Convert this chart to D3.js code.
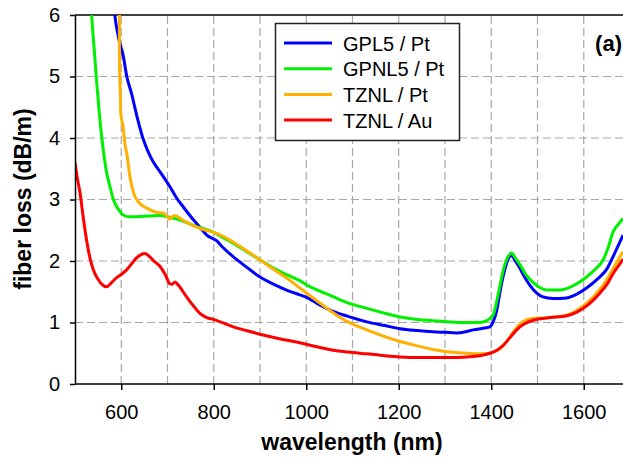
<!DOCTYPE html>
<meta charset="utf-8">
<script src="https://cdn.jsdelivr.net/npm/d3@7"></script>
<style>
  body { margin: 0; background: #fff; }
  svg { display: block; font-family: Arial, "Liberation Sans", sans-serif; }
</style>
<body>
<script>

var width = 623
var height = 460

// data: [wavelength nm, loss dB/m]
var seriesNames = ["GPL5 / Pt", "GPNL5 / Pt", "TZNL / Pt", "TZNL / Au"]
var seriesColors = ["#0000ff", "#00f000", "#ffb000", "#ff0000"]

var gpl5Pt = [[582,6.3],[586,6.0],[595,5.6],[604,5.35],[612,5.0],[622,4.73],[635,4.32],[648,3.97],[658,3.78],[670,3.6],[684,3.45],[705,3.21],[720,3.02],[734,2.88],[756,2.67],[770,2.55],[785,2.42],[806,2.33],[820,2.22],[842,2.07],[871,1.9],[900,1.74],[930,1.62],[960,1.52],[986,1.45],[1001,1.41],[1030,1.28],[1058,1.18],[1090,1.1],[1131,1.01],[1170,0.95],[1203,0.9],[1240,0.87],[1274,0.85],[1300,0.84],[1325,0.83],[1345,0.85],[1361,0.88],[1385,0.91],[1397,0.93],[1404,1.01],[1412,1.2],[1419,1.5],[1426,1.76],[1433,1.96],[1437,2.04],[1444,2.09],[1452,2.0],[1462,1.88],[1469,1.78],[1484,1.6],[1498,1.48],[1510,1.42],[1534,1.39],[1563,1.4],[1585,1.46],[1606,1.56],[1630,1.71],[1649,1.86],[1664,2.08],[1675,2.26],[1685,2.42]]

var gpnl5Pt = [[534,6.3],[536,6.0],[542,5.4],[547,4.9],[552,4.45],[558,4.0],[563,3.7],[568,3.45],[576,3.2],[583,3.0],[594,2.84],[604,2.75],[615,2.72],[633,2.72],[660,2.73],[684,2.74],[700,2.72],[720,2.68],[740,2.63],[756,2.58],[780,2.52],[799,2.47],[820,2.38],[842,2.29],[870,2.16],[900,2.02],[930,1.88],[960,1.77],[986,1.68],[1001,1.61],[1030,1.51],[1058,1.42],[1090,1.32],[1131,1.23],[1170,1.15],[1203,1.09],[1240,1.05],[1274,1.03],[1310,1.01],[1347,1.0],[1375,1.0],[1390,1.03],[1404,1.12],[1412,1.35],[1419,1.6],[1426,1.85],[1433,2.02],[1439,2.1],[1444,2.13],[1452,2.05],[1462,1.94],[1475,1.78],[1491,1.65],[1505,1.57],[1520,1.53],[1549,1.53],[1585,1.63],[1606,1.74],[1621,1.84],[1642,2.02],[1652,2.2],[1664,2.48],[1675,2.6],[1685,2.69]]

var tznlPt = [[595,6.3],[596,6.0],[596,5.27],[598,4.7],[599,4.4],[604,4.18],[608,3.9],[612,3.75],[619,3.36],[627,3.1],[637,2.96],[655,2.86],[677,2.79],[691,2.78],[700,2.72],[705,2.68],[710,2.72],[716,2.74],[730,2.68],[741,2.63],[770,2.53],[806,2.45],[842,2.31],[870,2.17],[900,2.02],[930,1.86],[960,1.71],[986,1.56],[1020,1.37],[1058,1.16],[1090,1.01],[1131,0.88],[1170,0.77],[1203,0.69],[1240,0.62],[1275,0.56],[1310,0.52],[1347,0.5],[1375,0.49],[1397,0.5],[1412,0.54],[1426,0.62],[1440,0.76],[1455,0.92],[1470,1.02],[1484,1.06],[1505,1.07],[1527,1.08],[1563,1.12],[1585,1.2],[1599,1.27],[1620,1.41],[1635,1.54],[1650,1.7],[1664,1.88],[1675,2.03],[1685,2.15]]

var tznlAu = [[500,3.6],[505,3.35],[511,3.1],[518,2.7],[525,2.34],[532,2.06],[540,1.85],[550,1.7],[560,1.61],[568,1.58],[578,1.64],[590,1.73],[600,1.78],[612,1.86],[622,1.95],[633,2.05],[642,2.1],[651,2.12],[660,2.08],[669,2.01],[684,1.91],[695,1.78],[705,1.63],[710,1.62],[716,1.66],[722,1.62],[741,1.42],[755,1.28],[770,1.15],[785,1.08],[799,1.05],[814,1.01],[842,0.93],[870,0.87],[900,0.81],[940,0.74],[986,0.67],[1020,0.61],[1058,0.55],[1090,0.52],[1131,0.49],[1170,0.46],[1203,0.44],[1240,0.43],[1275,0.43],[1310,0.43],[1347,0.44],[1375,0.46],[1397,0.5],[1412,0.55],[1426,0.63],[1440,0.75],[1455,0.88],[1470,0.97],[1484,1.02],[1505,1.06],[1527,1.08],[1563,1.11],[1585,1.17],[1599,1.23],[1620,1.36],[1635,1.48],[1650,1.62],[1664,1.8],[1675,1.92],[1685,2.03]]

var allSeries = [gpl5Pt, gpnl5Pt, tznlPt, tznlAu]

var xTicks = [600, 800, 1000, 1200, 1400, 1600]
var xGrid = [600, 700, 800, 900, 1000, 1100, 1200, 1300, 1400, 1500, 1600]
var yTicks = [0, 1, 2, 3, 4, 5, 6]
var yGrid = [1, 2, 3, 4, 5]

var x = d3.scaleLinear().domain([500, 1700]).range([75, 630])
var y = d3.scaleLinear().domain([0, 6]).range([384, 15])

var svg = d3.select("body").append("svg")
            .attr("width", width)
            .attr("height", height)

svg.append("defs").append("clipPath").attr("id", "plot")
   .append("rect").attr("x", 75).attr("y", 15).attr("width", 560).attr("height", 369)

// dashed grid
svg.append("g").selectAll("line").data(xGrid).enter().append("line")
   .attr("x1", d => x(d)).attr("x2", d => x(d))
   .attr("y1", y(0)).attr("y2", y(6))
   .attr("stroke", "#a8a8a8").attr("stroke-width", 1.2).attr("stroke-dasharray", "8,4")
svg.append("g").selectAll("line").data(yGrid).enter().append("line")
   .attr("x1", x(500)).attr("x2", width)
   .attr("y1", d => y(d)).attr("y2", d => y(d))
   .attr("stroke", "#a8a8a8").attr("stroke-width", 1.2).attr("stroke-dasharray", "8,4")

// top frame
svg.append("line").attr("x1", x(500)).attr("x2", width).attr("y1", y(6)).attr("y2", y(6))
   .attr("stroke", "#000").attr("stroke-width", 1.5)

// curves
var line = d3.line().x(d => x(d[0])).y(d => y(d[1])).curve(d3.curveMonotoneX)
svg.append("g").attr("clip-path", "url(#plot)")
   .selectAll("path").data(allSeries).enter().append("path")
   .attr("d", line)
   .attr("fill", "none")
   .attr("stroke", (d, i) => seriesColors[i])
   .attr("stroke-width", 3)
   .attr("stroke-linejoin", "round")

// axes
var xAxis = svg.append("g")
    .attr("transform", "translate(0," + y(0) + ")")
    .call(d3.axisBottom(x).tickValues(xTicks).tickFormat(d3.format("d")).tickSize(6).tickPadding(15).tickSizeOuter(0))
xAxis.select(".domain").attr("d", "M" + x(500) + ",0H" + width).attr("stroke-width", 1.5)
xAxis.selectAll("text").attr("font-size", 20).attr("fill", "#000").attr("font-family", "Arial, 'Liberation Sans', sans-serif")
xAxis.selectAll(".tick line").attr("stroke-width", 1.5)

var yAxis = svg.append("g")
    .attr("transform", "translate(" + x(500) + ",0)")
    .call(d3.axisLeft(y).tickValues(yTicks).tickFormat(d3.format("d")).tickSize(5).tickPadding(10).tickSizeOuter(0))
yAxis.select(".domain").attr("stroke-width", 1.5)
yAxis.selectAll("text").attr("font-size", 20).attr("fill", "#000").attr("font-family", "Arial, 'Liberation Sans', sans-serif")
yAxis.selectAll(".tick line").attr("stroke-width", 1.5)

// axis titles
svg.append("text")
   .attr("x", 352).attr("y", 450)
   .attr("text-anchor", "middle")
   .attr("font-size", 23).attr("font-weight", "bold")
   .text("wavelength (nm)")

svg.append("text")
   .attr("transform", "translate(31,199) rotate(-90)")
   .attr("text-anchor", "middle")
   .attr("font-size", 23).attr("font-weight", "bold")
   .text("fiber loss (dB/m)")

// panel label
svg.append("text")
   .attr("x", 622).attr("y", 51)
   .attr("text-anchor", "end")
   .attr("font-size", 22).attr("font-weight", "bold")
   .text("(a)")

// legend
var legend = svg.append("g")
legend.append("rect")
   .attr("x", 275.5).attr("y", 23.5).attr("width", 184).attr("height", 117)
   .attr("fill", "#fff").attr("stroke", "#222").attr("stroke-width", 1.5)
var items = legend.selectAll("g.item").data(seriesNames).enter().append("g")
   .attr("transform", (d, i) => "translate(0," + (43 + i * 25.7) + ")")
items.append("line")
   .attr("x1", 284).attr("x2", 332).attr("y1", 0).attr("y2", 0)
   .attr("stroke", (d, i) => seriesColors[i]).attr("stroke-width", 3)
items.append("text")
   .attr("x", 343).attr("y", 7.5)
   .attr("font-size", 20)
   .text(d => d)

</script>
</body>
